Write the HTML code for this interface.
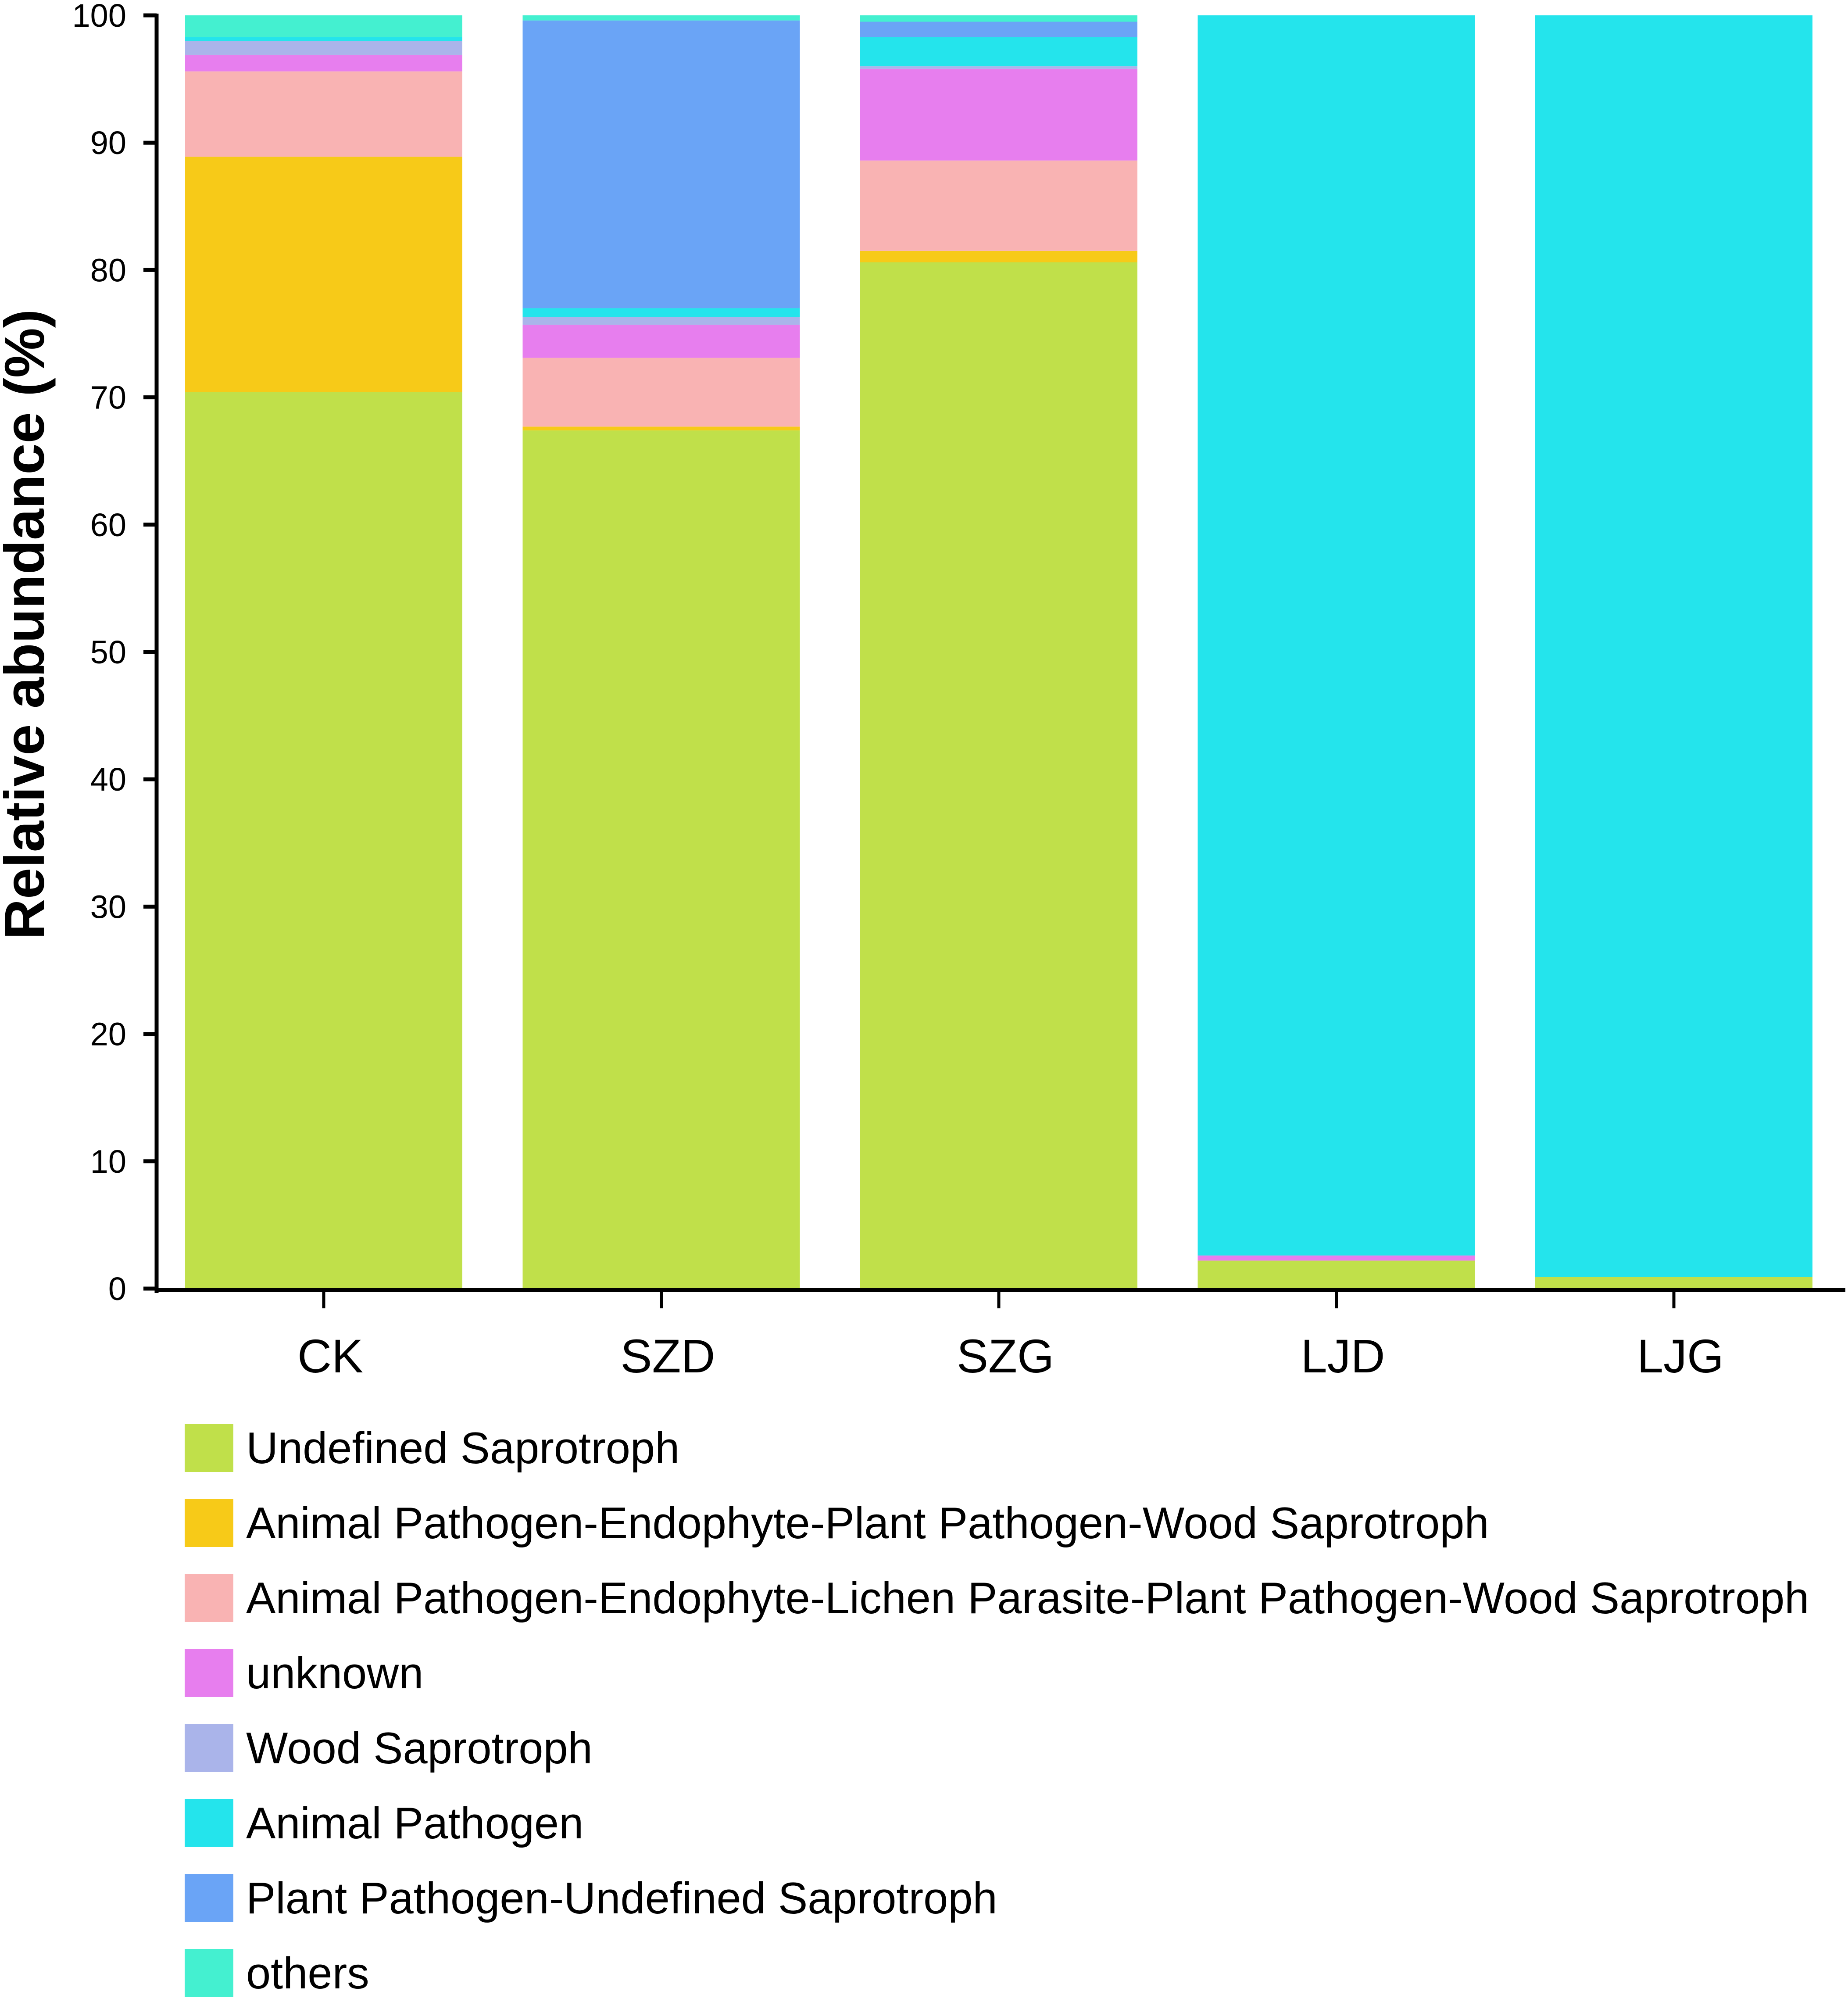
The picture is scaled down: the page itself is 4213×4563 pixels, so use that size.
<!DOCTYPE html>
<html><head><meta charset="utf-8"><style>
html,body{margin:0;padding:0;background:#fff;}
svg{display:block;font-family:"Liberation Sans",Arial,sans-serif;}
</style></head><body>
<svg id="chart" width="4213" height="4563" viewBox="0 0 4213 4563" xmlns="http://www.w3.org/2000/svg"></svg>
<script>
const categories = ["CK","SZD","SZG","LJD","LJG"];
const seriesNames = ["Undefined Saprotroph","Animal Pathogen-Endophyte-Plant Pathogen-Wood Saprotroph","Animal Pathogen-Endophyte-Lichen Parasite-Plant Pathogen-Wood Saprotroph","unknown","Wood Saprotroph","Animal Pathogen","Plant Pathogen-Undefined Saprotroph","others"];
const seriesColors = ["#c0e04a","#f7ca18","#f9b3b3","#e77eee","#aab4ea","#24e4ec","#6aa4f6","#44f0d0"];
const undefinedSaprotroph = [70.4,67.4,80.6,2.2,0.9];
const animalEndoPlantWood = [18.5,0.3,0.9,0,0];
const animalEndoLichen = [6.7,5.4,7.1,0,0];
const unknownVals = [1.3,2.6,7.2,0.4,0];
const woodSaprotroph = [1.1,0.6,0.2,0,0];
const animalPathogen = [0.3,0.7,2.3,97.4,99.1];
const plantPathogenUndef = [0,22.6,1.2,0,0];
const othersVals = [1.7,0.4,0.5,0,0];
const yTicks = [0,10,20,30,40,50,60,70,80,90,100];

const series = [undefinedSaprotroph,animalEndoPlantWood,animalEndoLichen,unknownVals,woodSaprotroph,animalPathogen,plantPathogenUndef,othersVals];
const NS="http://www.w3.org/2000/svg";
const svg=document.getElementById('chart');
function mk(t,a,p){const e=document.createElementNS(NS,t);for(const k in a)e.setAttribute(k,a[k]);(p||svg).appendChild(e);return e;}
const y0=2937,y100=35,axX=357,x0=422,barW=632,step=769.5;
function yS(v){return y0-(y0-y100)*v/100;}
function xS(i){return x0+i*step;}

const barsG=mk('g',{});


categories.forEach((c,i)=>{
  let cum=0;
  series.forEach((s,j)=>{
    const v=s[i]; if(v<=0){return;}
    const r=mk('rect',{x:xS(i),y:yS(cum+v),width:barW,height:yS(cum)-yS(cum+v),fill:seriesColors[j]},barsG);
    
    
    cum+=v;
  });
});

const ya=mk('line',{x1:axX,y1:y100-4,x2:axX,y2:y0+10,stroke:'#000','stroke-width':9});


const xa=mk('line',{x1:axX-4,y1:y0+3,x2:4207,y2:y0+3,stroke:'#000','stroke-width':10});


yTicks.forEach(t=>{
  const l=mk('line',{x1:axX-30,y1:yS(t),x2:axX,y2:yS(t),stroke:'#000','stroke-width':9});
  
  
  const tx=mk('text',{x:288,y:yS(t)+26,'text-anchor':'end','font-size':74,fill:'#000'});
  tx.textContent=t;
  
  
});
categories.forEach((c,i)=>{
  const cx=xS(i)+barW/2;
  const l=mk('line',{x1:cx,y1:y0,x2:cx,y2:y0+45,stroke:'#000','stroke-width':7});
  
  
  const tx=mk('text',{x:cx+15,y:3128,'text-anchor':'middle','font-size':108,fill:'#000'});
  tx.textContent=c;
  
  
});
const yt=mk('text',{x:0,y:0,'text-anchor':'middle','font-size':128,'font-weight':'bold',fill:'#000',transform:'translate(100,1423) rotate(-90)'});
yt.textContent='Relative abundance (%)';



seriesNames.forEach((n,j)=>{
  const top=3245+j*171;
  const r=mk('rect',{x:421,y:top,width:111,height:110,fill:seriesColors[j]});
  
  
  const tx=mk('text',{x:561,y:top+90,'font-size':101,fill:'#000'});
  tx.textContent=n;
  
  
});
</script>
</body></html>
